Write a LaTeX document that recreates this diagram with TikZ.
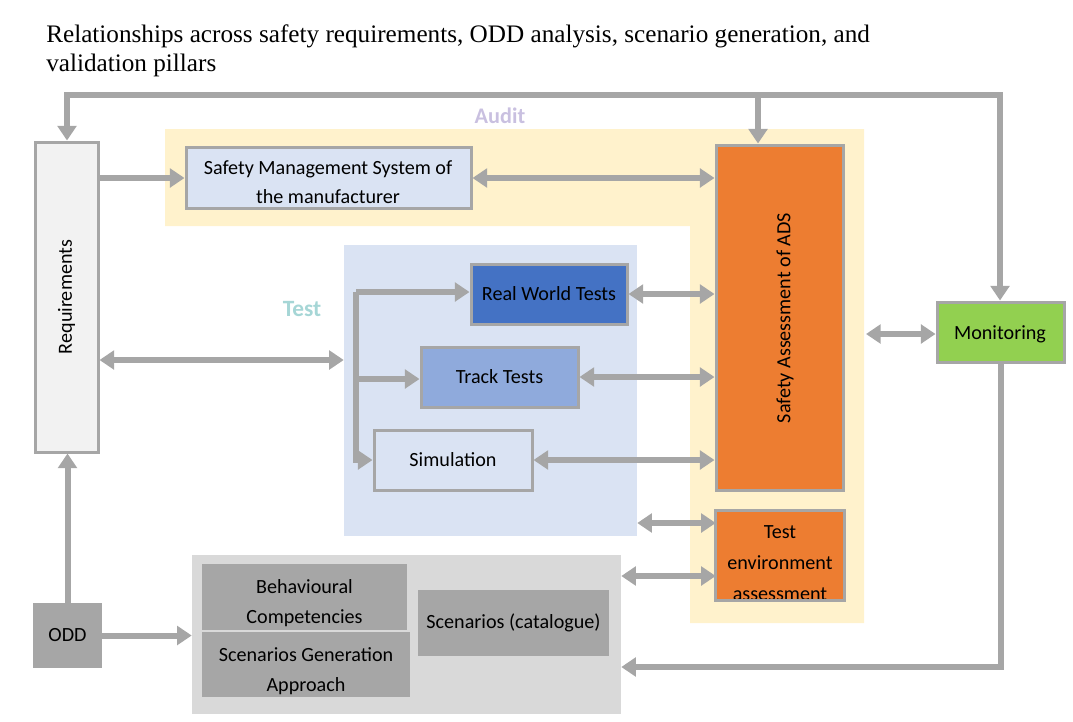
\documentclass[tikz,border=0pt]{standalone}
\usepackage{fontspec}
\setmainfont{Carlito}
\newfontfamily\titlefont{Liberation Serif}
\usetikzlibrary{arrows.meta,fit,calc}
\definecolor{lgray}{HTML}{A6A6A6}
\definecolor{reqfill}{HTML}{F2F2F2}
\definecolor{paleblue}{HTML}{DAE3F3}
\definecolor{orng}{HTML}{ED7D31}
\definecolor{rwblue}{HTML}{4472C4}
\definecolor{trblue}{HTML}{8FAADC}
\definecolor{yell}{HTML}{FFF2CC}
\definecolor{mongreen}{HTML}{92D050}
\definecolor{scgray}{HTML}{D9D9D9}
\definecolor{auditc}{HTML}{C9C0E0}
\definecolor{testc}{HTML}{A6D6D6}
\tikzset{
  boxst/.style={draw=lgray, line width=2.25pt, inner sep=0pt},
  flatbox/.style={inner sep=0pt},
  txt/.style={font=\fontsize{15.1}{22}\selectfont, align=center, text=black},
  conn/.style={draw=lgray, line width=4.5pt},
  arr/.style={conn, -{Triangle[width=14pt,length=11pt]}},
  darr/.style={conn, {Triangle[width=14pt,length=11pt]}-{Triangle[width=14pt,length=11pt]}},
}
\begin{document}
\begin{tikzpicture}[x=0.75pt,y=-0.75pt]
\useasboundingbox (0,0) rectangle (1073,721);
% title
\node[anchor=base west, font=\titlefont\fontsize{18.9}{20}\selectfont, inner sep=0] (title1) at (46,42) {Relationships across safety requirements, ODD analysis, scenario generation, and};
\node[anchor=base west, font=\titlefont\fontsize{18.9}{20}\selectfont, inner sep=0] (title2) at (46,71) {validation pillars};
% background regions
\fill[yell] (165,129) -- (864,129) -- (864,623) -- (690,623) -- (690,226) -- (165,226) -- cycle;
\node[fill=paleblue, flatbox, fit={(344,245)(637,536)}] (testbg) {};
\node[fill=scgray, flatbox, fit={(192,555)(621,714)}] (scen) {};
\node[font=\fontsize{16.7}{18}\selectfont\bfseries, text=auditc] (audit) at (500,116) {Audit};
\node[font=\fontsize{17.5}{18}\selectfont\bfseries, text=testc] (testlbl) at (302,309) {Test};
% boxes
\node[boxst, fill=reqfill, fit={(35,142)(98,452)}] (req) {};
\node[txt, rotate=90] (reqt) at (req.center) {Requirements};
\node[boxst, fill=paleblue, fit={(186,147)(471,208)}] (sms) {};
\node[txt, anchor=base] (smst1) at (328,174) {Safety Management System of};
\node[txt, anchor=base] (smst2) at (328,203) {the manufacturer};
\node[boxst, fill=orng, fit={(716,145)(843,490)}] (safety) {};
\node[txt, rotate=90] (safetyt) at (785,318) {Safety Assessment of ADS};
\node[boxst, fill=rwblue, fit={(471,264)(627,324)}] (rwt) {};
\node[txt] at (rwt.center) {Real World Tests};
\node[boxst, fill=trblue, fit={(421,347)(578,407)}] (track) {};
\node[txt] at (track.center) {Track Tests};
\node[boxst, fill=paleblue, fit={(374,430)(532,490)}] (sim) {};
\node[txt] at (sim.center) {Simulation};
\node[fill=orng, flatbox, fit={(716,511)(844,600)}] (testenv) {};
\begin{scope}
\clip (716,511) rectangle (844,599);
\node[txt, anchor=base] (te1) at (780,538) {Test};
\node[txt, anchor=base] (te2) at (780,569) {environment};
\node[txt, anchor=base] (te3) at (780,600) {assessment};
\end{scope}
\draw[lgray, line width=2.25pt] (testenv.south west) rectangle (testenv.north east);
\node[boxst, fill=mongreen, fit={(937,302)(1064,362)}] (mon) {};
\node[txt] at (1000,334) {Monitoring};
\node[fill=lgray, flatbox, fit={(202,564)(407,630)}] (beh) {};
\node[txt, anchor=base] at (304.5,593) {Behavioural};
\node[txt, anchor=base] at (304.5,623) {Competencies};
\node[fill=lgray, flatbox, fit={(202,632)(410,697)}] (sga) {};
\node[txt, anchor=base] at (306,661) {Scenarios Generation};
\node[txt, anchor=base] at (306,691) {Approach};
\node[fill=lgray, flatbox, fit={(418,590)(609,656)}] (cat) {};
\node[txt] at (cat.center) {Scenarios (catalogue)};
\node[fill=lgray, flatbox, fit={(33,603)(102,668)}] (odd) {};
\node[txt] at (odd.center) {ODD};
% connectors
\coordinate (tl) at (67,95);
\coordinate (tm) at (758,95);
\coordinate (tr) at (1000,95);
\draw[conn, line cap=rect] (tl) -- (tr);
\draw[arr] (tl) -- (tl |- req.north);
\draw[arr] (tm) -- (tm |- safety.north);
\draw[arr] (tr) -- (tr |- mon.north);
\draw[arr] (req.east |- 0,178) -- (sms.west |- 0,178);
\draw[darr] (sms.east |- 0,178) -- (safety.west |- 0,178);
\draw[darr] (req.east |- 0,360) -- (testbg.west |- 0,360);
\coordinate (bt) at (356,292);
\draw[arr] (bt) -- (bt -| rwt.west);
\draw[arr] (356,379) -- (track.west |- 0,379);
\draw[arr] (bt) |- (sim.west);
\draw[darr] (rwt.east) -- (rwt.east -| safety.west);
\draw[darr] (track.east) -- (track.east -| safety.west);
\draw[darr] (sim.east) -- (sim.east -| safety.west);
\draw[darr] (testbg.east |- 0,523) -- (testenv.west |- 0,523);
\draw[darr] (scen.east |- 0,576) -- (testenv.west |- 0,576);
\coordinate (auditR) at (866,334);
\draw[darr] (auditR) -- (auditR -| mon.west);
\draw[arr] (mon.south) |- (scen.east |- 0,667);
\draw[arr] (odd.north) -- (odd.north |- req.south);
\draw[arr] (odd.east) -- (scen.west |- odd.east);
\end{tikzpicture}
\end{document}
